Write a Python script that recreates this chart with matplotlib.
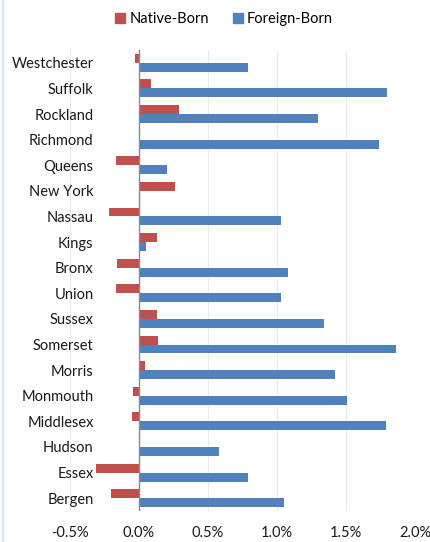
import matplotlib
matplotlib.use('Agg')
import matplotlib.pyplot as plt
import numpy as np
from matplotlib.ticker import FuncFormatter
from matplotlib.patches import Patch

# counties, top to bottom
counties = ['Westchester', 'Suffolk', 'Rockland', 'Richmond', 'Queens', 'New York',
            'Nassau', 'Kings', 'Bronx', 'Union', 'Sussex', 'Somerset', 'Morris',
            'Monmouth', 'Middlesex', 'Hudson', 'Essex', 'Bergen']

# percent change
native_born = [-0.03, 0.09, 0.29, 0.00, -0.17, 0.26, -0.22, 0.13, -0.16, -0.17,
               0.13, 0.14, 0.04, -0.04, -0.05, 0.01, -0.31, -0.20]
foreign_born = [0.79, 1.80, 1.30, 1.74, 0.20, 0.00, 1.03, 0.05, 1.08, 1.03,
                1.34, 1.86, 1.42, 1.51, 1.79, 0.58, 0.79, 1.05]

xticks = [-0.5, 0.0, 0.5, 1.0, 1.5, 2.0]

red = '#C0504D'
blue = '#4F81BD'

plt.rcParams['font.family'] = ['Lato', 'DejaVu Sans']

fig = plt.figure(figsize=(4.31, 5.42), dpi=100)
ax = fig.add_axes([0.1624, 0.0572, 0.8005, 0.8505])

y = np.arange(len(counties))
h = 0.35
ax.barh(y - h / 2, native_born, height=h, color=red, zorder=3)
ax.barh(y + h / 2, foreign_born, height=h, color=blue, zorder=3)

ax.set_ylim(len(counties) - 0.5, -0.5)
ax.set_xlim(-0.5, 2.0)
ax.set_xticks(xticks)
ax.xaxis.set_major_formatter(FuncFormatter(lambda v, p: '%.1f%%' % v))
ax.set_yticks(y)
ax.set_yticklabels(counties)

# gridlines and zero axis
ax.grid(axis='x', color='#EBEBEB', linewidth=0.8, zorder=0)
ax.axvline(0, color='#8C8C8C', linewidth=1.0, zorder=4)
for s in ax.spines.values():
    s.set_visible(False)
ax.tick_params(axis='both', length=0, labelsize=10.5, colors='#1a1a1a')
ax.tick_params(axis='x', pad=11)
# labels overlap the empty left part of the plot, like the original
ax.tick_params(axis='y', pad=-17)

handles = [Patch(color=red, label='Native-Born'), Patch(color=blue, label='Foreign-Born')]
fig.legend(handles=handles, loc='center', bbox_to_anchor=(0.52, 0.965), ncol=2,
           frameon=False, fontsize=10.5, handlelength=0.7, handleheight=0.7,
           handletextpad=0.3, columnspacing=1.6)

# light figure border on the left
fig.add_artist(plt.Line2D([0.007, 0.007], [0, 1], color='#DCE6F2', linewidth=1.5,
                          transform=fig.transFigure))

fig.savefig('out.png', dpi=100)
